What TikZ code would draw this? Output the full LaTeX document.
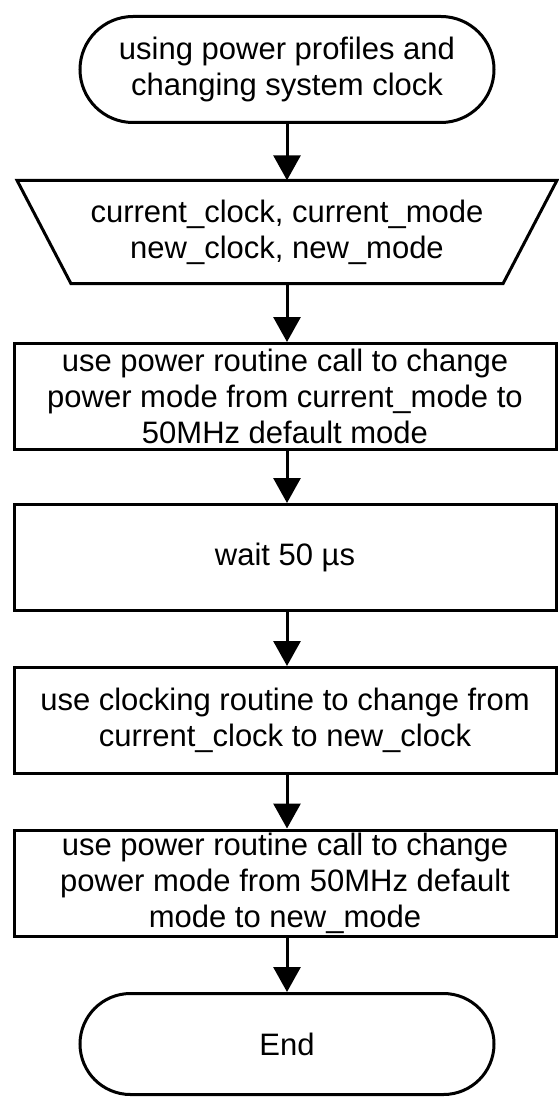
\documentclass[tikz,border=0pt]{standalone}
\usepackage{fontspec}
\setmainfont{Liberation Sans}
\usetikzlibrary{shapes.misc,arrows.meta}
\begin{document}
\begin{tikzpicture}[x=1pt,y=-1pt,
  every node/.style={font=\fontsize{31}{36}\selectfont, align=center, inner sep=0pt},
  termnode/.style={draw, line width=3pt, rounded rectangle, minimum width=414pt, minimum height=106pt},
  procnode/.style={draw, line width=3pt, rectangle, minimum width=542pt, minimum height=106pt},
  flowline/.style={line width=3pt, -{Triangle[width=27pt,length=25pt]}}]
\useasboundingbox (0,0) rectangle (559,1097);
\node[termnode] (start) at (287,69.5) {using power profiles and\\changing system clock};
\node[minimum width=540pt, minimum height=103pt] (inp) at (287,232) {current\_clock, current\_mode\\new\_clock, new\_mode};
\draw[line width=3pt, line join=miter] ([xshift=-270pt]inp.north) -- ([xshift=270pt]inp.north) -- ([xshift=216pt]inp.south) -- ([xshift=-216pt]inp.south) -- cycle;
\node[procnode] (pwra) at (285,396.5) {use power routine call to change\\power mode from current\_mode to\\50MHz default mode};
\node[procnode] (wait) at (285,557.5) {wait 50 µs};
\node[procnode] (clk) at (285,720.5) {use clocking routine to change from\\current\_clock to new\_clock};
\node[procnode] (pwrb) at (285,883) {use power routine call to change\\power mode from 50MHz default\\mode to new\_mode};
\node[termnode, minimum height=101pt] (end) at (287,1044) {End};
\draw[flowline] (start.south) -- (start.south |- inp.north);
\draw[flowline] (inp.south) -- (inp.south |- pwra.north);
\draw[flowline] (start.south |- pwra.south) -- (start.south |- wait.north);
\draw[flowline] (start.south |- wait.south) -- (start.south |- clk.north);
\draw[flowline] (start.south |- clk.south) -- (start.south |- pwrb.north);
\draw[flowline] (start.south |- pwrb.south) -- (end.north);
\end{tikzpicture}
\end{document}
